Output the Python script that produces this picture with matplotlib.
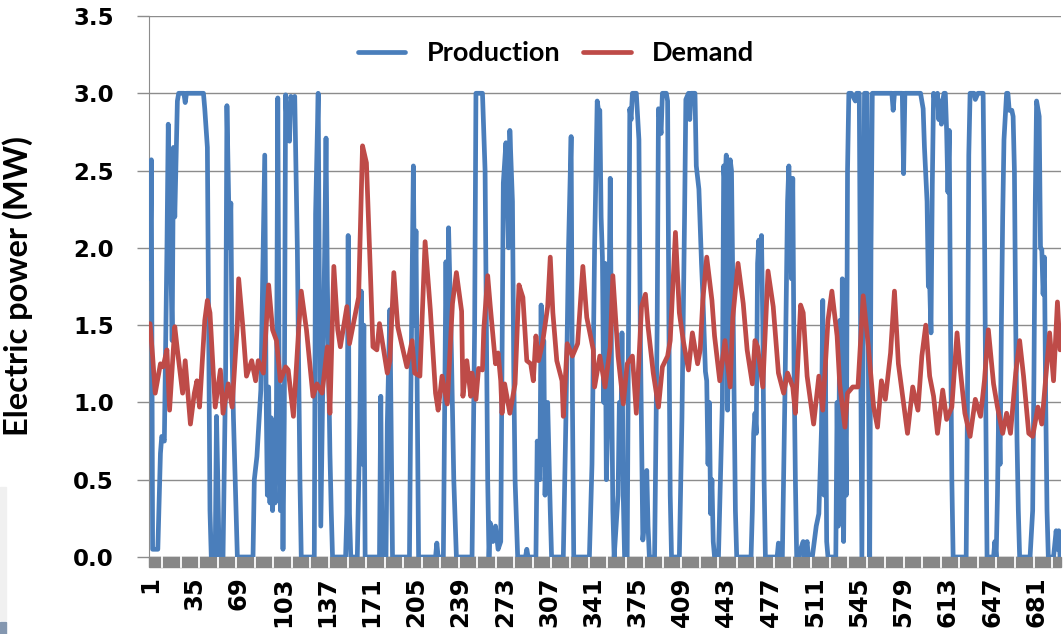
import numpy as np
import matplotlib
matplotlib.use("Agg")
import matplotlib.pyplot as plt
from matplotlib.patches import Rectangle
from matplotlib.transforms import blended_transform_factory

# hourly series at the line's turning points (hour, MW)
prod_hours = [1, 2, 3, 7, 9, 10, 12, 14, 15, 17, 18, 19, 20, 22, 23, 27, 28, 29, 42, 43, 45, 47, 48,
              51, 52, 53, 54, 57, 59, 60, 62, 63, 64, 65, 67, 68, 80, 81, 83, 86, 89, 90, 91, 92, 93,
              94, 95, 96, 97, 98, 99, 100, 101, 102, 103, 104, 105, 106, 108, 109, 111, 112, 114, 116,
              117, 127, 128, 130, 132, 135, 136, 137, 139, 140, 141, 151, 152, 153, 154, 155, 160, 162,
              163, 164, 165, 166, 177, 178, 179, 182, 183, 185, 187, 200, 201, 203, 204, 205, 206, 207,
              220, 221, 222, 226, 228, 229, 230, 232, 234, 236, 248, 250, 251, 256, 258, 260, 261, 262,
              264, 266, 268, 270, 272, 274, 276, 277, 279, 280, 281, 283, 289, 290, 291, 297, 298, 300,
              301, 302, 303, 304, 306, 308, 309, 318, 320, 322, 324, 325, 326, 338, 340, 342, 344, 345,
              346, 347, 348, 349, 350, 351, 352, 353, 354, 355, 356, 357, 360, 361, 362, 363, 364, 365,
              367, 368, 369, 370, 371, 374, 376, 377, 379, 381, 382, 383, 384, 388, 390, 391, 393, 394,
              397, 398, 399, 400, 401, 407, 409, 411, 412, 414, 415, 416, 419, 420, 422, 424, 425, 427,
              428, 429, 430, 431, 432, 433, 434, 437, 440, 441, 442, 443, 444, 445, 446, 447, 449, 450,
              451, 462, 463, 464, 465, 466, 467, 468, 469, 470, 471, 472, 473, 482, 483, 484, 486, 488,
              490, 491, 492, 493, 494, 495, 496, 497, 499, 500, 502, 503, 505, 506, 509, 512, 514, 516,
              517, 518, 519, 520, 521, 527, 528, 529, 530, 531, 532, 533, 534, 535, 536, 537, 539, 542,
              543, 545, 546, 547, 548, 549, 551, 552, 553, 554, 555, 570, 571, 572, 578, 579, 580, 592,
              594, 595, 597, 598, 599, 600, 601, 602, 603, 605, 606, 607, 608, 609, 610, 611, 612, 613,
              614, 615, 616, 617, 627, 628, 629, 630, 633, 634, 636, 640, 641, 642, 643, 648, 649, 650,
              651, 652, 653, 654, 655, 656, 658, 659, 660, 662, 663, 664, 665, 666, 667, 668, 676, 678,
              679, 680, 681, 682, 683, 684, 685, 686, 687, 688, 689, 690, 694, 696, 697, 698, 699]
prod_mw = [1.8, 2.57, 0.05, 0.05, 0.67, 0.78, 0.75, 2.0, 2.8, 1.9, 1.4, 2.65, 2.2, 2.95, 3.0, 3.0, 2.94,
           3.0, 3.0, 2.9, 2.65, 0.3, 0.0, 0.0, 0.91, 0.5, 0.0, 0.0, 1.2, 2.92, 2.0, 2.29, 1.3, 0.9, 0.3,
           0.0, 0.0, 0.5, 0.65, 1.08, 2.6, 1.1, 0.4, 1.1, 0.35, 0.9, 0.3, 0.6, 0.35, 1.0, 2.97, 1.2, 0.3,
           1.1, 0.05, 0.9, 2.99, 2.8, 2.69, 2.98, 2.9, 2.98, 2.0, 0.5, 0.0, 0.0, 2.22, 3.0, 0.2, 2.0,
           2.71, 1.8, 0.67, 0.3, 0.0, 0.0, 0.28, 2.08, 0.28, 0.0, 0.0, 0.9, 1.72, 0.6, 1.5, 0.0, 0.0,
           1.04, 0.0, 0.0, 0.86, 1.6, 0.0, 0.0, 1.0, 2.53, 1.5, 2.11, 1.0, 0.0, 0.0, 0.09, 0.0, 0.0,
           1.91, 1.0, 2.13, 1.4, 0.5, 0.0, 0.0, 1.5, 3.0, 3.0, 2.5, 0.5, 0.0, 0.22, 0.1, 0.2, 0.05, 0.1,
           2.42, 2.68, 2.0, 2.76, 2.3, 1.2, 0.5, 0.0, 0.0, 0.05, 0.0, 0.0, 0.75, 0.5, 1.63, 0.6, 1.4,
           0.4, 1.0, 0.3, 0.0, 0.0, 0.9, 2.0, 2.72, 1.0, 0.0, 0.0, 0.6, 2.0, 2.95, 2.89, 2.89, 2.2,
           1.94, 1.0, 1.9, 0.5, 0.82, 1.6, 2.45, 1.2, 0.3, 0.0, 0.4, 1.0, 0.6, 1.45, 0.39, 0.0, 0.0,
           1.5, 2.9, 2.83, 3.0, 3.0, 2.7, 1.5, 0.11, 0.3, 0.56, 0.2, 0.0, 0.0, 1.5, 2.9, 2.74, 3.0,
           3.0, 2.95, 1.5, 0.4, 0.0, 0.0, 0.9, 2.2, 2.96, 3.0, 2.83, 3.0, 3.0, 2.53, 2.38, 1.9, 1.7,
           1.2, 1.14, 0.6, 1.0, 0.28, 0.5, 0.1, 0.0, 0.0, 1.0, 2.53, 2.4, 2.6, 0.95, 1.6, 2.57, 2.5,
           1.0, 0.3, 0.0, 0.0, 0.3, 0.8, 0.93, 0.8, 1.9, 2.05, 1.8, 2.08, 1.5, 0.5, 0.0, 0.0, 0.09,
           0.0, 0.0, 1.06, 2.3, 2.53, 2.2, 1.8, 2.45, 1.2, 0.5, 0.0, 0.0, 0.05, 0.1, 0.0, 0.1, 0.0,
           0.0, 0.2, 0.28, 0.82, 1.66, 0.4, 1.3, 0.1, 0.0, 0.0, 1.0, 0.2, 1.53, 0.3, 1.8, 0.1, 1.2,
           0.4, 2.5, 3.0, 3.0, 2.95, 3.0, 3.0, 1.5, 0.0, 1.5, 3.0, 3.0, 1.2, 0.0, 2.0, 3.0, 3.0, 2.89,
           3.0, 3.0, 2.48, 3.0, 3.0, 2.9, 2.65, 2.3, 1.75, 1.77, 1.45, 2.4, 3.0, 2.95, 3.0, 2.83, 2.95,
           2.8, 2.95, 3.0, 3.0, 2.76, 2.36, 2.76, 1.5, 0.5, 0.0, 0.0, 1.0, 2.6, 3.0, 3.0, 2.96, 3.0,
           3.0, 2.2, 1.0, 0.0, 0.0, 0.1, 0.0, 0.4, 1.0, 0.6, 1.5, 2.2, 2.7, 3.0, 3.0, 2.89, 2.89, 2.85,
           2.5, 1.5, 0.75, 0.3, 0.0, 0.0, 0.3, 1.2, 2.3, 2.95, 2.9, 2.85, 2.0, 1.99, 1.7, 1.94, 1.0,
           0.3, 0.0, 0.0, 0.17, 0.05, 0.17, 0.0]

demand_hours = [1, 3, 5, 9, 11, 14, 16, 20, 22, 26, 28, 32, 35, 37, 39, 43, 45, 47, 51, 55, 57, 61, 64,
                68, 69, 72, 75, 79, 82, 84, 88, 92, 95, 98, 101, 105, 107, 111, 115, 117, 121, 124, 126,
                129, 133, 137, 139, 142, 145, 147, 152, 154, 157, 161, 164, 167, 170, 172, 175, 177,
                183, 185, 188, 191, 195, 198, 202, 204, 208, 212, 216, 220, 222, 225, 229, 233, 236,
                240, 241, 244, 247, 248, 251, 253, 256, 257, 260, 262, 266, 268, 270, 271, 273, 277,
                281, 284, 287, 290, 293, 295, 297, 299, 302, 306, 308, 310, 313, 317, 318, 321, 325,
                329, 333, 336, 341, 342, 346, 350, 354, 356, 360, 364, 367, 371, 374, 378, 381, 383,
                387, 391, 394, 398, 400, 404, 407, 410, 414, 417, 421, 423, 425, 428, 432, 434, 438,
                442, 446, 448, 452, 456, 459, 463, 465, 467, 471, 475, 479, 483, 487, 490, 494, 496,
                500, 502, 505, 510, 514, 517, 521, 524, 528, 530, 534, 536, 540, 544, 548, 552, 556,
                559, 562, 565, 569, 572, 575, 579, 582, 586, 590, 593, 596, 599, 602, 605, 609, 612,
                616, 620, 622, 626, 630, 634, 638, 641, 644, 648, 651, 655, 658, 661, 665, 668, 671,
                675, 678, 682, 685, 689, 691, 694, 697, 699]
demand_mw = [1.51, 1.3, 1.06, 1.25, 1.23, 1.34, 0.95, 1.49, 1.34, 1.06, 1.27, 0.86, 1.06, 1.14, 0.97,
             1.53, 1.66, 1.58, 0.97, 1.21, 0.93, 1.12, 0.97, 1.51, 1.8, 1.51, 1.17, 1.27, 1.14, 1.27,
             1.19, 1.76, 1.47, 1.4, 1.14, 1.23, 1.21, 0.91, 1.47, 1.72, 1.47, 1.21, 1.04, 1.12, 1.06,
             1.36, 0.93, 1.88, 1.47, 1.36, 1.62, 1.38, 1.51, 1.68, 2.66, 2.55, 1.85, 1.36, 1.34, 1.51,
             1.19, 1.27, 1.84, 1.49, 1.34, 1.23, 1.4, 1.19, 1.17, 2.04, 1.6, 1.06, 0.95, 1.17, 0.99,
             1.64, 1.84, 1.59, 1.04, 1.27, 1.04, 1.19, 1.02, 1.22, 1.21, 1.47, 1.82, 1.62, 1.25, 1.32,
             1.14, 0.93, 1.12, 0.93, 1.12, 1.76, 1.68, 1.27, 1.25, 1.14, 1.43, 1.27, 1.38, 1.62, 1.94,
             1.58, 1.27, 1.14, 0.91, 1.38, 1.3, 1.38, 1.88, 1.55, 1.34, 1.1, 1.3, 1.1, 1.36, 1.82, 1.3,
             0.99, 1.25, 1.3, 0.93, 1.62, 1.7, 1.49, 1.19, 0.97, 1.23, 1.3, 1.4, 2.1, 1.58, 1.4, 1.21,
             1.45, 1.25, 1.34, 1.66, 1.94, 1.66, 1.43, 1.14, 1.4, 1.1, 1.55, 1.9, 1.64, 1.34, 1.12, 1.4,
             1.36, 1.1, 1.85, 1.62, 1.19, 1.06, 1.19, 1.1, 0.93, 1.63, 1.58, 1.17, 0.86, 1.17, 0.95,
             1.53, 1.72, 1.43, 1.12, 0.84, 1.06, 1.1, 1.1, 1.69, 1.36, 0.97, 0.84, 1.14, 1.02, 1.32,
             1.72, 1.25, 0.99, 0.8, 1.1, 0.95, 1.3, 1.5, 1.17, 1.04, 0.8, 1.08, 0.89, 0.97, 1.45, 1.25,
             0.93, 0.78, 1.02, 0.91, 1.14, 1.47, 1.12, 0.97, 0.8, 0.93, 0.8, 1.19, 1.4, 1.17, 0.8, 0.78,
             0.97, 0.86, 1.25, 1.45, 1.14, 1.65, 1.34]

x_ticks = [1, 35, 69, 103, 137, 171, 205, 239, 273, 307, 341, 375, 409, 443, 477, 511, 545, 579, 613,
           647, 681]
y_ticks = [0.0, 0.5, 1.0, 1.5, 2.0, 2.5, 3.0, 3.5]

blue = "#4a7ebb"
red = "#be4b48"
grid_gray = "#8c8c8c"

fig = plt.figure(figsize=(10.63, 6.34), dpi=100)
fig.patches.append(Rectangle((0, 14 / 634), 6 / 1063, 133 / 634, transform=fig.transFigure,
                             color="#f0f0f0", zorder=0))
fig.patches.append(Rectangle((0, 0), 6 / 1063, 12 / 634, transform=fig.transFigure,
                             color="#8497b0", zorder=0))

ax = fig.add_axes([148.7 / 1063, 1 - 557 / 634, 912 / 1063, 541 / 634])
ax.plot(prod_hours, prod_mw, color=blue, lw=3.4, label="Production", zorder=3,
        solid_joinstyle="round", solid_capstyle="round")
ax.plot(demand_hours, demand_mw, color=red, lw=3.4, label="Demand", zorder=4,
        solid_joinstyle="round", solid_capstyle="round")

ax.set_xlim(0, 699.5)
ax.set_ylim(0, 3.5)
ax.set_yticks(y_ticks)
ax.set_yticklabels([f"{v:.1f}" for v in y_ticks], fontfamily="DejaVu Sans", fontweight="bold",
                   fontsize=16.5)
ax.set_xticks(x_ticks)
ax.set_xticklabels([str(v) for v in x_ticks], rotation=90, fontfamily=["Liberation Sans Narrow", "DejaVu Sans"],
                   fontweight="bold", fontsize=17.5, va="top")
ax.tick_params(axis="y", direction="out", length=9, width=1, color=grid_gray, pad=16)
ax.tick_params(axis="x", length=0, pad=14)
ax.grid(axis="y", color=grid_gray, lw=1)
ax.set_axisbelow(True)
for s in ["top", "right", "bottom"]:
    ax.spines[s].set_visible(False)
ax.spines["left"].set_color(grid_gray)

# the thick grey category axis with its white tick marks
band_h = 10 / 541
ax.add_patch(Rectangle((0, -band_h), 1, band_h, transform=ax.transAxes, color="#878787",
                       clip_on=False, zorder=2))
trans = blended_transform_factory(ax.transData, ax.transAxes)
for xs in np.arange(10.3, 699, 14.22):
    ax.plot([xs, xs], [-band_h, 0], color="white", lw=1.3, transform=trans, clip_on=False, zorder=2)

ax.set_ylabel("Electric power (MW)", fontfamily="Lato", fontweight="bold", fontsize=23.5)
ax.yaxis.set_label_coords(-0.127, 0.5)

leg = ax.legend(loc="center", bbox_to_anchor=(556 / 1063, 1 - 53 / 634), bbox_transform=fig.transFigure,
                ncol=2, frameon=False, handlelength=1.75, handletextpad=0.8, columnspacing=0.85,
                prop={"family": "Lato", "weight": "bold", "size": 19.5})

fig.savefig("out.png", dpi=100)
